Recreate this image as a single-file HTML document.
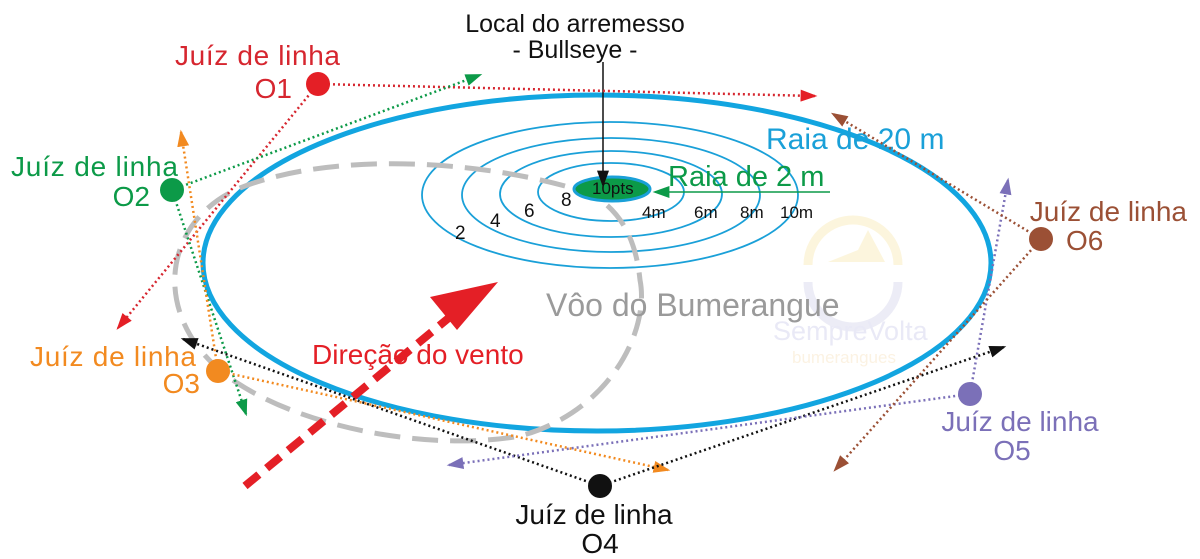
<!DOCTYPE html>
<html><head><meta charset="utf-8"><style>
html,body{margin:0;padding:0;background:#fff;}
svg{display:block;}
text{font-family:"Liberation Sans",sans-serif;}
</style></head><body>
<svg width="1200" height="559" viewBox="0 0 1200 559" xmlns="http://www.w3.org/2000/svg">
<defs>
<marker id="mr" viewBox="0 0 14 10" refX="12" refY="5" markerWidth="17" markerHeight="12" markerUnits="userSpaceOnUse" orient="auto"><path d="M0,0 L14,5 L0,10 z" fill="#e41f26"/></marker>
<marker id="mg" viewBox="0 0 14 10" refX="12" refY="5" markerWidth="17" markerHeight="12" markerUnits="userSpaceOnUse" orient="auto"><path d="M0,0 L14,5 L0,10 z" fill="#0c9a48"/></marker>
<marker id="mo" viewBox="0 0 14 10" refX="12" refY="5" markerWidth="17" markerHeight="12" markerUnits="userSpaceOnUse" orient="auto"><path d="M0,0 L14,5 L0,10 z" fill="#f28a20"/></marker>
<marker id="mk" viewBox="0 0 14 10" refX="12" refY="5" markerWidth="17" markerHeight="12" markerUnits="userSpaceOnUse" orient="auto"><path d="M0,0 L14,5 L0,10 z" fill="#111"/></marker>
<marker id="mp" viewBox="0 0 14 10" refX="12" refY="5" markerWidth="17" markerHeight="12" markerUnits="userSpaceOnUse" orient="auto"><path d="M0,0 L14,5 L0,10 z" fill="#7b70b8"/></marker>
<marker id="mb" viewBox="0 0 14 10" refX="12" refY="5" markerWidth="17" markerHeight="12" markerUnits="userSpaceOnUse" orient="auto"><path d="M0,0 L14,5 L0,10 z" fill="#9b5035"/></marker>
</defs>

<!-- watermark -->
<g opacity="0.25">
<path d="M808,265 A45,45 0 1 1 898,265" fill="none" stroke="#f5d97a" stroke-width="9"/>
<path d="M828,262 L858,250 L868,230 L885,262 z" fill="#f5d97a"/>
<path d="M808,282 A45,45 0 0 0 898,282" fill="none" stroke="#b8b8de" stroke-width="9"/>
<text x="773" y="340" font-size="27" fill="#a9a9dc">SempreVolta</text>
<text x="792" y="363" font-size="17" fill="#f3cd8e">bumerangues</text>
</g>

<!-- big ellipse -->
<ellipse cx="597" cy="263" rx="394" ry="168" fill="none" stroke="#12a5e0" stroke-width="5"/>

<!-- rings -->
<g fill="none" stroke="#1aa0d8" stroke-width="1.8">
<ellipse cx="610" cy="195" rx="188" ry="73"/>
<ellipse cx="611" cy="195" rx="149" ry="57"/>
<ellipse cx="611" cy="194" rx="111" ry="43"/>
<ellipse cx="611" cy="192" rx="73" ry="29"/>
</g>
<ellipse cx="612" cy="189" rx="38" ry="12" fill="#0c9a48" stroke="#1aa0d8" stroke-width="3"/>

<!-- flight path -->
<path d="M565,186 C470,160 330,152 240,188 C160,222 150,320 230,378 C300,428 430,452 520,436 C610,412 650,330 640,280 C636,240 622,215 598,198" fill="none" stroke="#bdbdbd" stroke-width="5" stroke-dasharray="26,12"/>

<!-- ring labels -->
<g fill="#111">
<text x="592" y="194" font-size="17">10pts</text>
<text x="642" y="218" font-size="17">4m</text>
<text x="694" y="218" font-size="17">6m</text>
<text x="740" y="218" font-size="17">8m</text>
<text x="780" y="218" font-size="17">10m</text>
<text x="455" y="239" font-size="19">2</text>
<text x="490" y="227" font-size="19">4</text>
<text x="524" y="217" font-size="19">6</text>
<text x="561" y="206" font-size="19">8</text>
</g>

<!-- bullseye arrow -->
<line x1="603" y1="62" x2="603" y2="185" stroke="#111" stroke-width="1.5" marker-end="url(#mk)"/>
<text x="575" y="32" font-size="25" fill="#111" text-anchor="middle">Local do arremesso</text>
<text x="575" y="58" font-size="25" fill="#111" text-anchor="middle">- Bullseye -</text>

<!-- Raia labels -->
<text x="766" y="149" font-size="30" fill="#1aa0d8">Raia de 20 m</text>
<text x="668" y="186" font-size="29" fill="#0c9a48">Raia de 2 m</text>
<line x1="830" y1="192" x2="655" y2="192" stroke="#0c9a48" stroke-width="1.5" marker-end="url(#mg)"/>

<text x="546" y="316" font-size="32" fill="#9a9a9a">Vôo do Bumerangue</text>

<!-- wind -->
<line x1="245" y1="486" x2="462" y2="307" stroke="#e41f26" stroke-width="8" stroke-dasharray="18,10"/>
<polygon points="498,282 430,297 457,330" fill="#e41f26"/>
<text x="312" y="364" font-size="28" fill="#e41f26">Direção do vento</text>

<!-- judge lines -->
<g fill="none" stroke-width="2.5" stroke-dasharray="2,3">
<line x1="318" y1="84" x2="815" y2="96" stroke="#d6262f" marker-end="url(#mr)"/>
<line x1="318" y1="84" x2="118" y2="328" stroke="#d6262f" marker-end="url(#mr)"/>
<line x1="172" y1="190" x2="480" y2="75" stroke="#0c9a48" marker-end="url(#mg)"/>
<line x1="172" y1="190" x2="246" y2="414" stroke="#0c9a48" marker-end="url(#mg)"/>
<line x1="218" y1="371" x2="181" y2="132" stroke="#f28a20" marker-end="url(#mo)"/>
<line x1="218" y1="371" x2="668" y2="470" stroke="#f28a20" marker-end="url(#mo)"/>
<line x1="600" y1="486" x2="183" y2="339" stroke="#111" marker-end="url(#mk)"/>
<line x1="600" y1="486" x2="1004" y2="347" stroke="#111" marker-end="url(#mk)"/>
<line x1="970" y1="394" x2="1008" y2="180" stroke="#7b70b8" marker-end="url(#mp)"/>
<line x1="970" y1="394" x2="449" y2="465" stroke="#7b70b8" marker-end="url(#mp)"/>
<line x1="1041" y1="239" x2="833" y2="114" stroke="#9b5035" marker-end="url(#mb)"/>
<line x1="1041" y1="239" x2="835" y2="470" stroke="#9b5035" marker-end="url(#mb)"/>
</g>

<!-- judges -->
<circle cx="318" cy="84" r="12" fill="#e41f26"/>
<circle cx="172" cy="190" r="12" fill="#0c9a48"/>
<circle cx="218" cy="371" r="12" fill="#f28a20"/>
<circle cx="600" cy="486" r="12" fill="#111"/>
<circle cx="970" cy="394" r="12" fill="#7b70b8"/>
<circle cx="1041" cy="239" r="12" fill="#9b5035"/>

<g font-size="28">
<text x="340" y="65" fill="#d6262f" text-anchor="end" textLength="165">Juíz de linha</text>
<text x="292" y="98" fill="#d6262f" text-anchor="end">O1</text>
<text x="178" y="176" fill="#0c9a48" text-anchor="end" textLength="167">Juíz de linha</text>
<text x="150" y="206" fill="#0c9a48" text-anchor="end">O2</text>
<text x="196" y="366" fill="#f28a20" text-anchor="end" textLength="166">Juíz de linha</text>
<text x="200" y="393" fill="#f28a20" text-anchor="end">O3</text>
<text x="594" y="524" fill="#111" text-anchor="middle">Juíz de linha</text>
<text x="600" y="553" fill="#111" text-anchor="middle">O4</text>
<text x="1020" y="431" fill="#7b70b8" text-anchor="middle">Juíz de linha</text>
<text x="1012" y="460" fill="#7b70b8" text-anchor="middle">O5</text>
<text x="1187" y="221" fill="#9b5035" text-anchor="end">Juíz de linha</text>
<text x="1066" y="250" fill="#9b5035" text-anchor="start">O6</text>
</g>
</svg>
</body></html>
